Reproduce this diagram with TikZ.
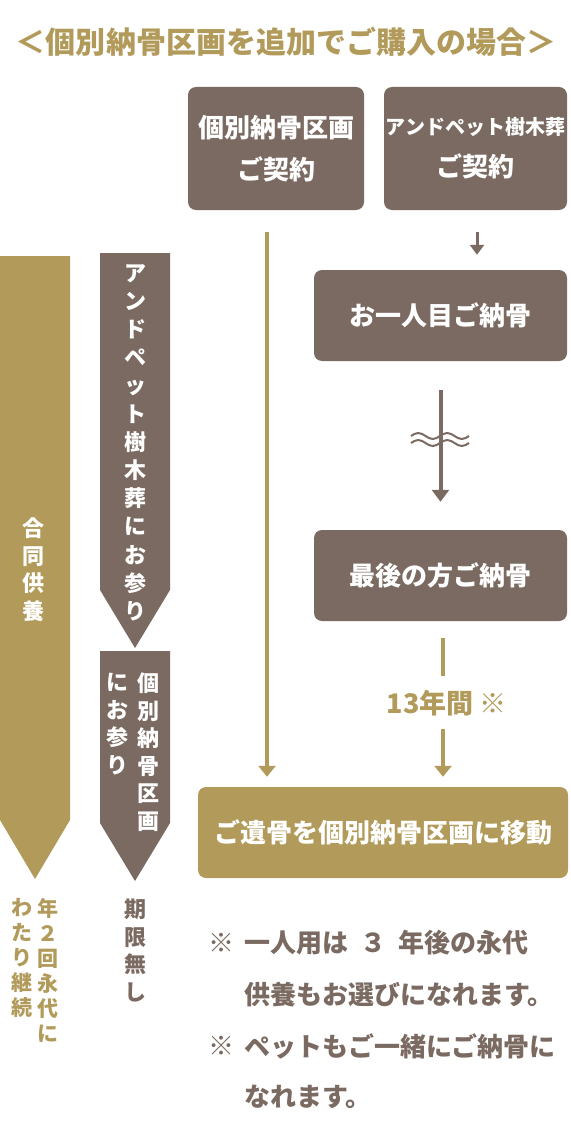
\documentclass[tikz,border=0pt]{standalone}
\usepackage{fontspec}
\newfontfamily\jp{Noto Sans CJK JP}
\usetikzlibrary{arrows.meta}
\definecolor{brn}{HTML}{7A6A61}
\definecolor{gld}{HTML}{B19A5A}
\begin{document}
\begin{tikzpicture}[x=1pt,y=-1pt,
  bbox/.style={fill=brn, rounded corners=8pt, text=white, align=center, inner sep=0pt,
    font=\jp\bfseries\fontsize{26}{42}\selectfont},
  gbox/.style={bbox, fill=gld},
  vtxt/.style={anchor=north, align=center, inner sep=0pt, text=white,
    font=\jp\bfseries\fontsize{22}{27.5}\selectfont},
  gline/.style={draw=gld, line width=4pt},
  garr/.style={gline, -{Triangle[width=17pt,length=11pt]}},
  barr/.style={draw=brn, line width=4pt, -{Triangle[width=17pt,length=12pt]}},
  sarr/.style={draw=brn, line width=3pt, -{Triangle[width=14pt,length=10pt]}},
  note/.style={anchor=west, inner sep=0pt, text=brn, font=\jp\bfseries\fontsize{26}{30}\selectfont},
]
\useasboundingbox (0,0) rectangle (570,1134);

% title
\node[text=gld, inner sep=0pt, font=\jp\bfseries\fontsize{30}{34}\selectfont] (title) at (286,42) {＜個別納骨区画を追加でご購入の場合＞};

% boxes
\node[bbox, minimum width=176pt, minimum height=123pt] (k1) at (276,148.5) {個別納骨区画\\ご契約};
\node[bbox, minimum width=183pt, minimum height=123pt] (k2) at (475.5,148.5) {{\fontsize{20}{42}\selectfont アンドペット樹木葬}\\ご契約};
\node[bbox, minimum width=253pt, minimum height=91pt] (n1) at (440.5,315.5) {お一人目ご納骨};
\node[bbox, minimum width=253pt, minimum height=91pt] (n2) at (440.5,575.5) {最後の方ご納骨};
\node[gbox, minimum width=370pt, minimum height=91pt] (mv) at (383,832.5) {ご遺骨を個別納骨区画に移動};

% arrows
\coordinate (g1s) at (267,232);
\draw[garr, shorten >=10pt] (g1s) -- (g1s |- mv.north);
\draw[sarr, shorten <=22pt, shorten >=15pt] ([xshift=1.5pt]k2.south) -- ([xshift=1.5pt]k2.south |- n1.north);
\draw[barr, shorten <=29pt, shorten >=28pt] (n1.south) -- (n2.south |- n2.north);
% wave marks
\foreach \yy in {436,443}{
  \draw[brn, line width=2pt] (411,\yy) sin (418.25,\yy-3) cos (425.5,\yy) sin (432.75,\yy+3) cos (440,\yy)
    sin (447.25,\yy-3) cos (454.5,\yy) sin (461.75,\yy+3) cos (469,\yy);
}
\node[inner sep=0pt, text=gld, font=\jp\bfseries\fontsize{27}{30}\selectfont] (t13) at (446.5,703) {13年間\hspace{6pt}{\mdseries ※}};
\coordinate (l1a) at (443,638);
\coordinate (l2a) at (443,729);
\draw[gline] (l1a) -- (l1a |- 0,676);
\draw[garr, shorten >=10pt] (l2a) -- (l2a |- mv.north);

% left block arrows
\fill[gld] (0,256) -- (70,256) -- (70,820) -- (35,879) -- (0,820) -- cycle;
\fill[brn] (100,253) -- (170,253) -- (170,590) -- (135,648) -- (100,590) -- cycle;
\fill[brn] (100,651) -- (170,651) -- (170,823) -- (135,881) -- (100,823) -- cycle;

\node[vtxt, font=\jp\bfseries\fontsize{22}{27.5}\selectfont] (gd) at (34,518) {合\\同\\供\\養};
\node[vtxt, font=\jp\bfseries\fontsize{22}{28.2}\selectfont] (ap) at (135,264) {ア\\ン\\ド\\ペ\\ッ\\ト\\樹\\木\\葬\\に\\お\\参\\り};
\node[vtxt] (kb1) at (148,673) {個\\別\\納\\骨\\区\\画};
\node[vtxt] (kb2) at (117,673) {に\\お\\参\\り};

\node[vtxt, text=brn, font=\jp\bfseries\fontsize{22}{27.5}\selectfont] (kg) at (135,899) {期\\限\\無\\し};
\node[vtxt, text=gld, font=\jp\bfseries\fontsize{21}{25}\selectfont] (nk1) at (48,898) {年\\２\\回\\永\\代\\に};
\node[vtxt, text=gld, font=\jp\bfseries\fontsize{21}{25}\selectfont] (nk2) at (22,898) {わ\\た\\り\\継\\続};

% notes
\node[note] (m1) at (208,943) {※};
\node[note] (n1a) at (244,943) {一人用は\hspace{12pt}３\hspace{12pt}年後の永代};
\node[note] (n1b) at (244,995) {供養もお選びになれます。};
\node[note] (m2) at (208,1046) {※};
\node[note] (n2a) at (244,1046) {ペットもご一緒にご納骨に};
\node[note] (n2b) at (244,1097) {なれます。};
\end{tikzpicture}
\end{document}
